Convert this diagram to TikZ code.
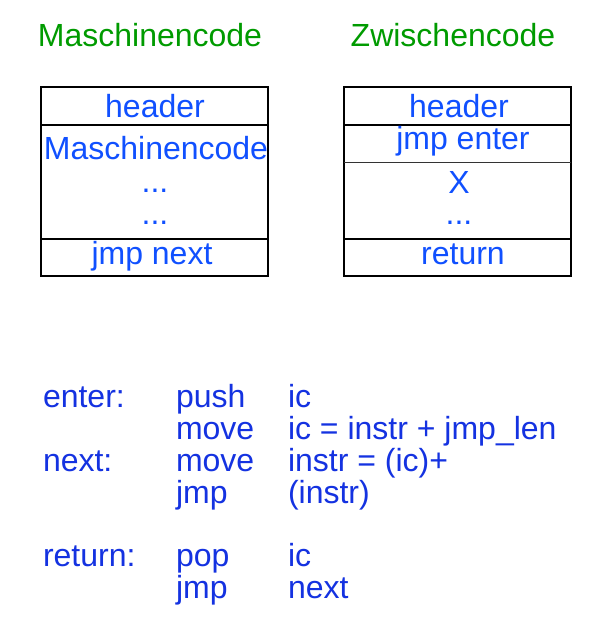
\documentclass[tikz,border=0pt]{standalone}
\usepackage{fontspec}
\setmainfont{Liberation Sans}
\definecolor{titlegreen}{RGB}{0,155,0}
\definecolor{boxblue}{RGB}{16,80,255}
\definecolor{codeblue}{RGB}{20,50,225}
\begin{document}
\begin{tikzpicture}[x=1pt,y=-1pt,
  txt/.style={inner sep=0pt,outer sep=0pt,font=\fontsize{32}{32}\selectfont},
  ttl/.style={txt,text=titlegreen,anchor=base},
  bx/.style={txt,text=boxblue,anchor=base},
  cd/.style={txt,text=codeblue,anchor=base west},
  frame/.style={draw=black,line width=2pt},
  thin/.style={draw=black!80,line width=1pt}]
\useasboundingbox[fill=white] (0,0) rectangle (613,633);
% titles
\node[ttl] (t1) at (150,46) {Maschinencode};
\node[ttl] (t2) at (453,46) {Zwischencode};
% left box
\draw[frame] (41,87) rectangle (268,276);
\draw[frame] (41,125) -- (268,125);
\draw[frame] (41,239) -- (268,239);
\node[bx] (l1) at (155,117) {header};
\node[bx] (l2) at (156,159) {Maschinencode};
\node[bx] (l3) at (155,192) {...};
\node[bx] (l4) at (155,224) {...};
\node[bx] (l5) at (152,264) {jmp next};
% right box
\draw[frame] (344,87) rectangle (571,276);
\draw[frame] (344,125) -- (571,125);
\draw[thin] (344,162) -- (571,162);
\draw[frame] (344,239) -- (571,239);
\node[bx] (r1) at (459,117) {header};
\node[bx] (r2) at (463,149) {jmp enter};
\node[bx] (r3) at (459,193) {X};
\node[bx] (r4) at (459,224) {...};
\node[bx] (r5) at (463,264) {return};
% code
\node[cd] (c1a) at (43,407) {enter:};
\node[cd] (c1b) at (176,407) {push};
\node[cd] (c1c) at (288,407) {ic};
\node[cd] (c2b) at (176,439) {move};
\node[cd] (c2c) at (288,439) {ic = instr + jmp\_len};
\node[cd] (c3a) at (43,471) {next:};
\node[cd] (c3b) at (176,471) {move};
\node[cd] (c3c) at (288,471) {instr = (ic)+};
\node[cd] (c4b) at (176,503) {jmp};
\node[cd] (c4c) at (288,503) {(instr)};
\node[cd] (c5a) at (43,566) {return:};
\node[cd] (c5b) at (176,566) {pop};
\node[cd] (c5c) at (288,566) {ic};
\node[cd] (c6b) at (176,598) {jmp};
\node[cd] (c6c) at (288,598) {next};
\end{tikzpicture}
\end{document}
